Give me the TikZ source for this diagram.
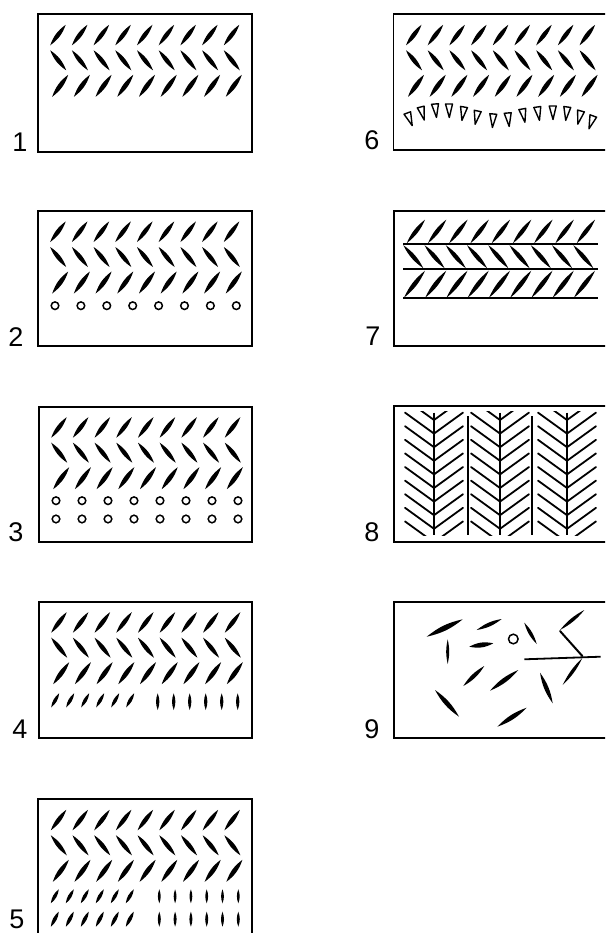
\documentclass[tikz,border=0pt]{standalone}
\usepackage{fontspec}
\newfontfamily\lblfont{Liberation Sans}
\newcommand\lens[3][17]{\fill #2 to[bend left=#1] #3 to[bend left=#1] #2;}
\newcommand\chevrons{%
 \foreach \i in {0,...,8}{%
  \pgfmathsetmacro\cx{21.7*\i}%
  \lens{({12.5+\cx},31)}{({28+\cx},10.5)}%
  \lens{({12.5+\cx},36)}{({28.5+\cx},56)}%
  \lens{({14.5+\cx},82.5)}{({30.5+\cx},60.5)}%
 }}
\tikzset{
 panelbox/.style={draw, line width=1.8pt},
 hole/.style={draw, line width=1.5pt},
 tri/.style={draw, line width=1.4pt, line join=round},
 branch/.style={draw, line width=1.8pt, line join=round, line cap=round},
 rule/.style={draw, line width=1.8pt},
 lbl/.style={font=\lblfont\fontsize{27}{27}\selectfont, anchor=base, inner sep=0pt},
}
\begin{document}
\begin{tikzpicture}[x=1pt,y=-1pt]
\useasboundingbox (0,0) rectangle (605,933);
\clip (0,0) rectangle (605,933);
\fill[white] (0,0) rectangle (605,933);

% ---------- panel 1
\draw[panelbox] (37.7,14.3) rectangle (251.7,151.7);
\node[lbl] (l1) at (20,151.7) {1};
\begin{scope}[shift={(37.7,14.3)}]
 \chevrons
\end{scope}

% ---------- panel 2
\draw[panelbox] (37.7,211) rectangle (251.7,346);
\node[lbl] (l2) at (16,346) {2};
\begin{scope}[shift={(37.7,211)}]
 \chevrons
 \foreach \i in {0,...,7} \draw[hole] ({17.3+25.9*\i},94.7) circle (3.8);
\end{scope}

% ---------- panel 3
\draw[panelbox] (38.7,406.7) rectangle (251.7,541.7);
\node[lbl] (l3) at (16,541.7) {3};
\begin{scope}[shift={(38.7,406.7)}]
 \chevrons
 \foreach \i in {0,...,7} {
  \draw[hole] ({17.3+26*\i},94) circle (3.8);
  \draw[hole] ({17.3+26*\i},112.3) circle (3.8);
 }
\end{scope}

% ---------- panel 4
\draw[panelbox] (38.7,601.7) rectangle (251.7,738.3);
\node[lbl] (l4) at (20,738.3) {4};
\begin{scope}[shift={(38.7,601.7)}]
 \chevrons
 \foreach \i in {0,...,5} {
  \lens[22]{({12.5+15*\i},105.6)}{({20.5+15*\i},91.6)}
  \lens[20]{({119+16*\i},91.6)}{({119+16*\i},108.3)}
 }
\end{scope}

% ---------- panel 5
\draw[panelbox] (38.3,799.3) rectangle (251.7,936);
\node[lbl] (l5) at (17,928) {5};
\begin{scope}[shift={(38.3,799.3)}]
 \chevrons
 \foreach \i in {0,...,5} {
  \lens[22]{({12.5+15*\i},104)}{({20.5+15*\i},90)}
  \lens[22]{({12.5+15*\i},127.4)}{({20.5+15*\i},112.4)}
  \lens[20]{({121+15.8*\i},90)}{({121+15.8*\i},104)}
  \lens[20]{({121+15.8*\i},112.4)}{({121+15.8*\i},127.4)}
 }
\end{scope}

% ---------- panel 6
\draw[panelbox] (393.5,14.3) rectangle (607.5,150);
\node[lbl] (l6) at (372,150) {6};
\begin{scope}[shift={(393.5,14.3)}]
 \chevrons
 \foreach \x/\y/\a in {13.8/98.7/20, 27.2/92.7/14, 41.5/89.7/5, 55.5/89.7/0,
   70.5/92.7/-10, 84.2/96.7/-12, 99.8/99.7/-5, 114.2/98.7/5, 128.8/94.7/10,
   143.8/92.7/8, 159.2/91.7/0, 173.8/92.7/-8, 187.5/96.7/-15, 199.8/101.7/-20}
  \draw[tri, shift={(\x,\y)}, rotate=\a] (-3.5,0) -- (3.5,0) -- (0.3,13.5) -- cycle;
\end{scope}

% ---------- panel 7
\draw[panelbox] (394,210.7) rectangle (608,345.7);
\node[lbl] (l7) at (373,345.7) {7};
\begin{scope}[shift={(394,210.7)}]
 \draw[rule] (9.3,33.3) -- (204.3,33.3);
 \draw[rule] (9.3,58.3) -- (204.3,58.3);
 \draw[rule] (9.3,87.6) -- (204.3,87.6);
 \foreach \i in {0,...,8}{
  \pgfmathsetmacro\cx{21.25*\i}
  \lens[14]{({12.7+\cx},32.5)}{({31+\cx},9)}
  \lens[14]{({9.3+\cx},34.5)}{({29.3+\cx},57.5)}
  \lens[13]{({10+\cx},87)}{({31+\cx},60)}
 }
\end{scope}

% ---------- panel 8
\draw[panelbox] (394,405.7) rectangle (608,541.7);
\node[lbl] (l8) at (372,541.7) {8};
\begin{scope}
 \clip (400,411) rectangle (603,535.5);
 \foreach \s in {434,500,567}
  \foreach \k in {0,...,9} {
   \pgfmathsetmacro\yv{420+13.6*\k}
   \draw[branch] ({\s-29},{\yv-21}) -- (\s,\yv) -- ({\s+29},{\yv-21});
  }
\end{scope}
\draw[rule] (434,412.7) -- (434,535);
\draw[rule] (500,412.7) -- (500,535);
\draw[rule] (566.7,412.7) -- (566.7,535);
\draw[rule] (468.3,416) -- (468.3,535);
\draw[rule] (532.3,416) -- (532.3,535);

% ---------- panel 9
\draw[panelbox] (394,601.7) rectangle (608,738.3);
\node[lbl] (l9) at (372,738.3) {9};
\lens[13]{(426.7,636.7)}{(462.7,619.3)}
\lens[12]{(447.7,639.3)}{(447.7,664)}
\lens[14]{(476.7,630)}{(501.7,619)}
\lens[20]{(469.3,646.7)}{(493.3,643.3)}
\draw[hole] (513.3,639) circle (4.8);
\lens[14]{(524.3,622.7)}{(536.7,644)}
\lens[14]{(463.3,686)}{(484.3,666)}
\lens[13]{(490,690.7)}{(518.3,670)}
\lens[13]{(540,672.7)}{(552.7,703.3)}
\lens[13]{(435,690)}{(459,716.7)}
\lens[13]{(497.3,726.7)}{(526.7,707.7)}
\lens[11]{(584.3,610)}{(560,630)}
\draw[line width=2pt, line cap=round] (560,631) -- (582.3,656);
\draw[rule] (524.3,659.3) -- (600.7,656.7);
\lens[10]{(582.3,658)}{(562.7,685)}
\end{tikzpicture}
\end{document}
